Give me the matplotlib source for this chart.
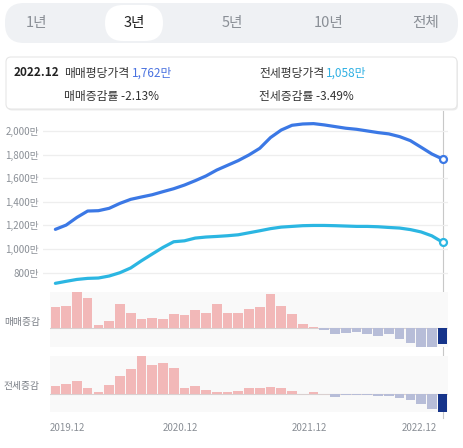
import numpy as np
import matplotlib
matplotlib.use("Agg")
import matplotlib.pyplot as plt
from matplotlib.patches import FancyBboxPatch
from matplotlib.lines import Line2D

plt.rcParams['font.family'] = ['Noto Sans CJK KR', 'DejaVu Sans']

# 2019.12 ~ 2022.12, 37개월
months = ['2019.12', '2020.12', '2021.12', '2022.12']
month_idx = [0, 12, 24, 36]

sale_price = [1167, 1203, 1268, 1322, 1325, 1345, 1387, 1421, 1441, 1460,
              1486, 1511, 1542, 1579, 1619, 1669, 1709, 1749, 1797, 1853,
              1944, 2008, 2048, 2059, 2062, 2051, 2037, 2023, 2014, 2000,
              1986, 1975, 1952, 1918, 1862, 1805, 1762]
jeonse_price = [710, 727, 743, 752, 755, 772, 800, 840, 901, 958,
                1014, 1062, 1070, 1093, 1102, 1107, 1113, 1121, 1138, 1155,
                1173, 1186, 1192, 1198, 1200, 1200, 1198, 1195, 1192, 1192,
                1189, 1183, 1178, 1165, 1145, 1112, 1058]

sale_chg = [2.96, 3.15, 5.14, 4.21, 0.51, 1.11, 3.47, 2.22, 1.25, 1.43,
            1.25, 2.04, 1.85, 2.64, 2.22, 3.43, 2.13, 2.13, 2.78, 3.06,
            4.82, 3.10, 1.99, 0.65, 0.14, -0.18, -0.74, -0.65, -0.56, -0.79,
            -1.01, -0.79, -1.43, -1.99, -2.64, -2.64, -2.13]
jeonse_chg = [1.58, 2.11, 2.62, 1.24, 0.39, 1.91, 3.61, 4.99, 7.55, 5.72,
              6.25, 5.19, 1.18, 1.72, 0.93, 0.39, 0.45, 0.73, 1.18, 1.24,
              1.52, 1.24, 0.65, 0.14, 0.45, 0.03, -0.45, -0.06, -0.14, -0.06,
              -0.34, -0.34, -0.73, -1.12, -1.91, -2.90, -3.49]

y_ticks = [800, 1000, 1200, 1400, 1600, 1800, 2000]
tabs = ['1년', '3년', '5년', '10년', '전체']
tab_x = [37, 134, 232, 329, 426]

W, H = 464, 448
fig = plt.figure(figsize=(W / 100, H / 100), dpi=100)
fig.patch.set_facecolor('white')

def frac(x0, y0, x1, y1):  # 픽셀 -> figure 좌표
    return [x0 / W, 1 - y1 / H, (x1 - x0) / W, (y1 - y0) / H]

# 배경용 축 (픽셀 좌표)
bg = fig.add_axes([0, 0, 1, 1])
bg.set_xlim(0, W)
bg.set_ylim(H, 0)
bg.axis('off')

# 기간 탭
bg.add_patch(FancyBboxPatch((5, 3), 453, 40, boxstyle="round,pad=0,rounding_size=19",
                            fc='#eff1f4', ec='none'))
bg.add_patch(FancyBboxPatch((105, 5), 58, 36, boxstyle="round,pad=0,rounding_size=18",
                            fc='white', ec='none'))
for t, x in zip(tabs, tab_x):
    sel = t == '3년'
    bg.text(x, 23, t, ha='center', va='center', fontsize=10.5,
            fontweight='medium' if sel else 'normal',
            color='#222222' if sel else '#8a8f96')

# 정보 박스
bg.add_patch(FancyBboxPatch((7, 58.5), 451, 52, boxstyle="round,pad=0,rounding_size=5",
                            fc='#ececec', ec='none'))
bg.add_patch(FancyBboxPatch((6, 57), 451, 52, boxstyle="round,pad=0,rounding_size=5",
                            fc='white', ec='#e6e6e6', lw=0.8))
bg.text(14, 73, '2022.12', fontsize=8.5, fontweight='bold', color='#222222', va='center')
bg.text(64, 73, '매매평당가격', fontsize=8.5, color='#333333', va='center')
bg.text(132, 73, '1,762만', fontsize=8.5, color='#4a72e0', va='center')
bg.text(259, 73, '전세평당가격', fontsize=8.5, color='#333333', va='center')
bg.text(326, 73, '1,058만', fontsize=8.5, color='#2fb0e3', va='center')
bg.text(64, 96.5, '매매증감률 -2.13%', fontsize=8.5, color='#333333', va='center')
bg.text(259, 96.5, '전세증감률 -3.49%', fontsize=8.5, color='#333333', va='center')

x = np.arange(len(sale_price))
x_left = -0.5 - 7 / 10.757

# 가격 선 그래프
ax = fig.add_axes(frac(43, 115, 448, 287))
ax.set_facecolor('none')
ax.plot(x, sale_price, color='#3b78e5', lw=2.3, solid_capstyle='round', zorder=3)
ax.plot(x, jeonse_price, color='#2bb6e2', lw=2.3, solid_capstyle='round', zorder=3)
ax.plot(x[-1], sale_price[-1], 'o', ms=5, mfc='white', mec='#3b78e5', mew=1.6, zorder=4)
ax.plot(x[-1], jeonse_price[-1], 'o', ms=5, mfc='white', mec='#2bb6e2', mew=1.6, zorder=4)
ax.set_xlim(x_left, 36.5)
ax.set_ylim(679, 2135)
ax.set_yticks(y_ticks)
ax.set_yticklabels([f'{v:,}만' for v in y_ticks])
ax.grid(axis='y', color='#eeeeee', lw=0.9)
ax.set_xticks([])
ax.tick_params(axis='y', length=0, pad=3, labelsize=7, labelcolor='#8a8f96')
for s in ax.spines.values():
    s.set_visible(False)

# 증감 막대
def bars(pos, vals):
    a = fig.add_axes(pos)
    a.set_facecolor('#f9f9f9')
    cols = ['#f2b8b8' if v >= 0 else '#b7bdd8' for v in vals]
    cols[-1] = '#16348a'
    a.bar(x, vals, width=0.9, color=cols, zorder=2)
    a.axhline(0, color='#d9d0d0', lw=0.8, zorder=1)
    a.set_xlim(-0.5, 36.5)
    a.set_ylim(min(vals), max(vals))
    a.set_xticks([])
    a.set_yticks([])
    for s in a.spines.values():
        s.set_visible(False)
    return a

b1 = bars(frac(50, 291.7, 448, 347.3), sale_chg)
b2 = bars(frac(50, 356, 448, 412), jeonse_chg)
bg.text(40, 322, '매매증감', ha='right', va='center', fontsize=7, color='#7a7f86')
bg.text(40, 386, '전세증감', ha='right', va='center', fontsize=7, color='#7a7f86')

# x축 레이블
tr = b2.get_xaxis_transform()
for m, i in zip(months, month_idx):
    if i == 0:
        b2.text(i - 0.5, -0.28, m, ha='left', va='center', fontsize=7, color='#8a8f96', transform=tr)
    elif i == 36:
        b2.text(i - 0.5, -0.28, m, ha='right', va='center', fontsize=7, color='#8a8f96', transform=tr)
    else:
        b2.text(i - 0.4, -0.28, m, ha='center', va='center', fontsize=7, color='#8a8f96', transform=tr)

# 마지막 달 세로선
xl = 50 + 36.5 * 10.757
fig.add_artist(Line2D([xl / W, xl / W], [1 - 111 / H, 1 - 418 / H], color='#c8c8c8', lw=0.8, zorder=0))

fig.savefig('out.png', dpi=100)
